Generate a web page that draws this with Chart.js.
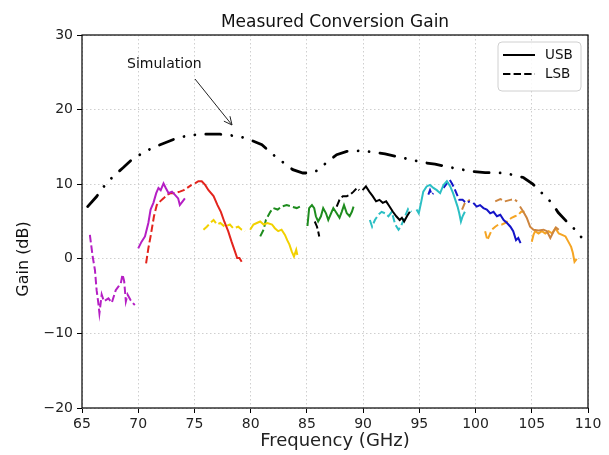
<!DOCTYPE html>
<html><head><meta charset="utf-8">
<script src="https://cdn.jsdelivr.net/npm/chart.js@4"></script>
<style>html,body{margin:0;padding:0;background:#fff}</style>
</head><body>
<canvas id="c" width="609" height="455"></canvas>
<script>
// ---- tick labels ----
const xTickValues = [65,70,75,80,85,90,95,100,105,110];
const yTickValues = [-20,-10,0,10,20,30];

// ---- simulation ----
const simFreq = [65.5,66.3,67.05,67.75,68.65,69.4,70.4,71.3,72.4,73.45,74.6,75.65,77.3,79.05,80.1,81.0,82.0,82.9,83.75,84.65,85.45,86.0,86.75,87.65,88.55,89.9,90.9,91.95,93.0,94.35,95.35,96.4,97.45,98.65,99.8,100.85,102.6,104.25,105.1,105.9,106.8,107.35,108.1,108.85,109.6,110];
const simGain = [7.0,8.35,9.9,11.0,12.2,13.25,14.2,14.9,15.55,16.2,16.55,16.7,16.7,16.4,15.85,15.3,13.95,12.9,11.95,11.5,11.5,11.9,12.9,13.95,14.4,14.5,14.3,14.05,13.7,13.25,12.9,12.7,12.35,12.0,11.7,11.55,11.5,10.9,10.0,8.8,7.45,6.2,5.0,3.9,2.55,1.9];

// ---- magenta ----
const magLsbFreq = [65.7,65.95,66.15,66.3,66.45,66.55,66.75,66.95,67.35,67.65,68.0,68.25,68.45,68.6,68.75,68.9,69.05,69.3,69.5,69.7];
const magLsbGain = [3.2,0.3,-1.5,-4.2,-5.9,-7.3,-4.8,-5.7,-5.3,-5.9,-4.2,-3.7,-3.3,-2.1,-3.0,-5.7,-4.8,-5.5,-5.9,-6.2];
const magUsbFreq = [70.0,70.3,70.6,70.9,71.1,71.35,71.6,71.8,72.0,72.25,72.45,72.7,73.0,73.25,73.55,73.7,73.95,74.15];
const magUsbGain = [1.4,2.3,3.0,4.8,6.6,7.5,8.8,9.5,9.2,10.1,9.5,8.8,9.0,8.6,8.1,7.2,7.7,8.1];

// ---- red ----
const redLsbFreq = [70.7,70.9,71.1,71.4,71.65,71.95,72.25,72.6,72.9,73.25,73.7,74.05,74.35,74.75];
const redLsbGain = [-0.6,1.4,3.0,5.7,7.2,7.7,8.1,8.6,8.8,8.8,9.0,9.2,9.5,9.9];
const redUsbFreq = [75.05,75.35,75.65,75.95,76.25,76.7,77.05,77.35,77.65,78.0,78.3,78.6,78.8,79.0,79.2];
const redUsbGain = [10.1,10.4,10.4,9.9,9.2,8.4,7.2,6.3,5.0,3.7,2.3,1.0,0.1,0.1,-0.4];

// ---- yellow ----
const yelLsbFreq = [75.8,76.1,76.4,76.7,77.0,77.3,77.7,78.15,78.45,78.9,79.2,79.5];
const yelLsbGain = [3.9,4.3,4.8,5.2,4.6,4.8,4.3,4.6,4.1,4.3,3.9,3.7];
const yelUsbFreq = [79.95,80.25,80.55,80.85,81.15,81.5,81.9,82.15,82.45,82.75,83.05,83.25,83.45,83.65,83.85,84.05,84.15];
const yelUsbGain = [3.9,4.6,4.8,5.0,4.6,4.8,4.6,4.1,3.7,3.9,3.2,2.5,1.9,1.0,0.3,1.2,0.5];

// ---- green ----
const grnLsbFreq = [80.85,81.15,81.35,81.75,82.0,82.4,82.75,83.2,83.65,84.1,84.4];
const grnLsbGain = [3.0,3.9,5.2,6.3,6.8,6.6,7.0,7.2,7.0,6.8,7.0];
const grnUsbFreq = [85.05,85.2,85.45,85.65,85.8,86.0,86.25,86.45,86.7,86.9,87.15,87.35,87.65,87.9,88.1,88.3,88.55,88.8,89.0,89.15];
const grnUsbGain = [4.4,6.8,7.2,6.8,5.7,5.0,5.7,6.8,6.1,5.2,6.1,6.8,6.1,5.5,6.3,7.2,6.1,5.7,6.3,7.0];

// ---- black ----
const blkLsbFreq = [85.7,85.9,86.0,86.1,86.9,87.65,87.9,88.2,88.55,88.85,89.15,89.45,89.65];
const blkLsbGain = [5.0,4.3,3.7,3.0,null,7.0,7.9,8.4,8.4,8.6,9.0,9.5,9.2];
const blkUsbFreq = [89.95,90.25,90.55,90.85,91.15,91.45,91.75,92.05,92.35,92.65,92.95,93.25,93.45,93.65,93.9,94.15];
const blkUsbGain = [9.2,9.7,9.0,8.4,7.7,7.9,7.5,7.7,7.0,6.3,5.7,5.2,5.5,5.0,5.7,6.3];

// ---- cyan ----
const cyaLsbFreq = [90.6,90.8,91.05,91.35,91.65,91.95,92.25,92.55,92.85,93.15,93.35,93.6,94.0,94.3];
const cyaLsbGain = [5.2,4.3,5.2,5.9,6.3,6.1,5.7,6.3,4.6,3.9,4.3,5.2,6.7,6.3];
const cyaUsbFreq = [94.75,94.95,95.15,95.35,95.65,95.95,96.25,96.55,96.85,97.15,97.45,97.75,98.0,98.2,98.4,98.55,98.7,98.85,99.05];
const cyaUsbGain = [6.6,6.1,7.5,9.0,9.7,9.9,9.5,9.2,8.8,9.9,10.4,9.7,8.8,7.9,7.0,6.1,5.0,5.7,6.3];

// ---- blue ----
const bluLsbFreq = [95.8,95.95,96.1,96.25,96.7,97.15,97.45,97.7,97.9,98.1,98.35,98.55,98.85,99.15,99.5];
const bluLsbGain = [8.6,9.2,8.6,8.8,null,9.5,10.1,10.6,10.1,9.5,8.6,7.9,7.9,7.5,7.7];
const bluUsbFreq = [99.8,100.1,100.4,100.7,101.0,101.3,101.6,101.9,102.2,102.5,102.8,103.1,103.35,103.6,103.8,104.0];
const bluUsbGain = [7.5,7.0,7.2,6.8,6.6,6.1,6.3,5.7,5.9,5.2,4.8,4.3,3.7,2.5,2.8,2.1];

// ---- peru ----
const peruLsbFreq = [98.8,99.05,99.5,100.6,101.75,102.2,102.6,103.1,103.4,103.7];
const peruLsbGain = [6.6,7.5,7.9,null,7.7,8.0,7.7,7.9,8.0,7.7];
const peruUsbFreq = [103.95,104.25,104.55,104.85,105.15,105.6,106.05,106.35,106.65,106.95,107.15,107.4];
const peruUsbGain = [7.0,6.3,5.5,4.3,3.9,3.8,3.9,3.7,2.8,3.7,4.2,3.9];

// ---- orange ----
const orgLsbFreq = [100.85,101.05,101.25,101.45,101.75,102.05,102.35,102.65,102.95,103.2,103.5,103.8,104.05,104.35];
const orgLsbGain = [3.7,2.5,3.2,3.9,4.3,4.6,4.6,4.8,5.2,5.5,5.7,5.9,6.3,6.3];
const orgUsbFreq = [105.0,105.15,105.3,105.6,105.9,106.2,106.5,106.8,107.1,107.4,107.7,108.0,108.25,108.5,108.65,108.8,109.0];
const orgUsbGain = [2.3,3.2,3.7,3.4,3.7,3.4,3.7,3.4,4.1,3.4,3.2,3.0,2.3,1.6,0.8,-0.4,0.0];

const FONT = "'DejaVu Sans', sans-serif";
const DASH = [7.4, 3.2];
const SIMDASH = [15, 11, 0.01, 11, 0.01, 11];

function pts(f, g) { return f.map((x, i) => ({x: x, y: g[i]})); }
function ds(label, f, g, color, dashed) {
  return {label: label, data: pts(f, g), borderColor: color, backgroundColor: color,
    borderWidth: 2, borderDash: dashed ? DASH : [], pointRadius: 0, tension: 0,
    spanGaps: false, fill: false};
}

const datasets = [
  Object.assign(ds('Simulation', simFreq, simGain, '#000000', false),
    {borderDash: SIMDASH, borderWidth: 2.8, borderCapStyle: 'round'}),
  ds('mag USB', magUsbFreq, magUsbGain, '#b51fc4', false),
  ds('mag LSB', magLsbFreq, magLsbGain, '#b51fc4', true),
  ds('red USB', redUsbFreq, redUsbGain, '#e3241d', false),
  ds('red LSB', redLsbFreq, redLsbGain, '#e3241d', true),
  ds('yel USB', yelUsbFreq, yelUsbGain, '#f2d100', false),
  ds('yel LSB', yelLsbFreq, yelLsbGain, '#f2d100', true),
  ds('grn USB', grnUsbFreq, grnUsbGain, '#1e8c1e', false),
  ds('grn LSB', grnLsbFreq, grnLsbGain, '#1e8c1e', true),
  ds('blk USB', blkUsbFreq, blkUsbGain, '#000000', false),
  ds('blk LSB', blkLsbFreq, blkLsbGain, '#000000', true),
  ds('cya USB', cyaUsbFreq, cyaUsbGain, '#2bbfc4', false),
  ds('cya LSB', cyaLsbFreq, cyaLsbGain, '#2bbfc4', true),
  ds('blu USB', bluUsbFreq, bluUsbGain, '#1414c8', false),
  ds('blu LSB', bluLsbFreq, bluLsbGain, '#1414c8', true),
  ds('peru USB', peruUsbFreq, peruUsbGain, '#cd853f', false),
  ds('peru LSB', peruLsbFreq, peruLsbGain, '#cd853f', true),
  ds('org USB', orgUsbFreq, orgUsbGain, '#f5a524', false),
  ds('org LSB', orgLsbFreq, orgLsbGain, '#f5a524', true)
];

const decorPlugin = {
  id: 'decor',
  afterDatasetsDraw(chart) {
    const ctx = chart.ctx, a = chart.chartArea;
    ctx.save();
    // frame
    ctx.strokeStyle = '#000'; ctx.lineWidth = 1.2; ctx.setLineDash([]);
    ctx.strokeRect(a.left, a.top, a.right - a.left, a.bottom - a.top);
    // title
    ctx.fillStyle = '#111';
    ctx.font = "17px " + FONT;
    ctx.textAlign = 'center'; ctx.textBaseline = 'alphabetic';
    ctx.fillText('Measured Conversion Gain', (a.left + a.right) / 2, 27);
    // y label
    ctx.save();
    ctx.translate(24, 259);
    ctx.rotate(-Math.PI / 2);
    ctx.font = "16px " + FONT;
    ctx.textAlign = 'center'; ctx.textBaseline = 'middle';
    ctx.fillText('Gain (dB)', 0, 0);
    ctx.restore();
    // annotation
    ctx.font = "14px " + FONT;
    ctx.textAlign = 'left'; ctx.textBaseline = 'middle';
    ctx.fillText('Simulation', 127, 64);
    ctx.strokeStyle = '#222'; ctx.lineWidth = 1;
    const x0 = 195, y0 = 79, x1 = 232, y1 = 125;
    ctx.beginPath(); ctx.moveTo(x0, y0); ctx.lineTo(x1, y1); ctx.stroke();
    const ang = Math.atan2(y1 - y0, x1 - x0), L = 9, w = 0.45;
    ctx.beginPath();
    ctx.moveTo(x1 - L * Math.cos(ang - w), y1 - L * Math.sin(ang - w));
    ctx.lineTo(x1, y1);
    ctx.lineTo(x1 - L * Math.cos(ang + w), y1 - L * Math.sin(ang + w));
    ctx.stroke();
    // legend
    const lx = 498, ly = 42, lw = 83, lh = 49, r = 4;
    ctx.beginPath();
    ctx.moveTo(lx + r, ly); ctx.lineTo(lx + lw - r, ly); ctx.quadraticCurveTo(lx + lw, ly, lx + lw, ly + r);
    ctx.lineTo(lx + lw, ly + lh - r); ctx.quadraticCurveTo(lx + lw, ly + lh, lx + lw - r, ly + lh);
    ctx.lineTo(lx + r, ly + lh); ctx.quadraticCurveTo(lx, ly + lh, lx, ly + lh - r);
    ctx.lineTo(lx, ly + r); ctx.quadraticCurveTo(lx, ly, lx + r, ly);
    ctx.closePath();
    ctx.fillStyle = 'rgba(255,255,255,0.85)'; ctx.fill();
    ctx.strokeStyle = '#d0d0d0'; ctx.lineWidth = 1; ctx.stroke();
    ctx.strokeStyle = '#000'; ctx.lineWidth = 2;
    ctx.beginPath(); ctx.moveTo(503, 55); ctx.lineTo(535, 55); ctx.stroke();
    ctx.setLineDash(DASH);
    ctx.beginPath(); ctx.moveTo(503, 74); ctx.lineTo(535, 74); ctx.stroke();
    ctx.setLineDash([]);
    ctx.fillStyle = '#111';
    ctx.font = "13.5px " + FONT;
    ctx.textAlign = 'left'; ctx.textBaseline = 'middle';
    ctx.fillText('USB', 545, 55);
    ctx.fillText('LSB', 545, 74);
    ctx.restore();
  }
};

new Chart(document.getElementById('c'), {
  type: 'line',
  data: {datasets: datasets},
  options: {
    responsive: false, animation: false, devicePixelRatio: 1,
    layout: {padding: {top: 35, right: 21, left: 0, bottom: 0}},
    plugins: {legend: {display: false}, title: {display: false}, tooltip: {enabled: false}},
    scales: {
      x: {
        type: 'linear', min: 65, max: 110,
        afterBuildTicks(s) { s.ticks = xTickValues.map(v => ({value: v})); },
        afterFit(s) { s.height = 47; },
        ticks: {font: {family: FONT, size: 14}, color: '#222', padding: 3, maxRotation: 0, autoSkip: false},
        grid: {color: '#cfcfcf', lineWidth: 1, tickColor: '#000', tickLength: 5, tickWidth: 1},
        border: {display: false, dash: [1.5, 2.5]},
        title: {display: true, text: 'Frequency (GHz)', font: {family: FONT, size: 18}, color: '#222', padding: {top: 0, bottom: 3}}
      },
      y: {
        min: -20, max: 30,
        afterBuildTicks(s) { s.ticks = yTickValues.map(v => ({value: v})); },
        afterFit(s) { s.width = 82; },
        ticks: {font: {family: FONT, size: 14}, color: '#222', padding: 4, autoSkip: false,
          callback: v => String(v).replace('-', '\u2212')},
        grid: {color: '#cfcfcf', lineWidth: 1, tickColor: '#000', tickLength: 5, tickWidth: 1},
        border: {display: false, dash: [1.5, 2.5]}
      }
    }
  },
  plugins: [decorPlugin]
});
</script>
</body></html>
